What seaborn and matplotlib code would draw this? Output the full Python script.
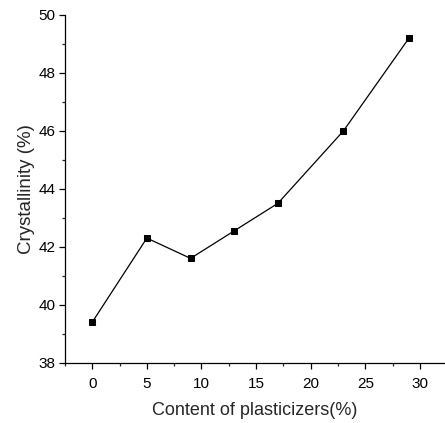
import pandas as pd
import matplotlib.pyplot as plt
import seaborn as sns
from matplotlib.ticker import MultipleLocator

# Dados
plasticizer = [0, 5, 9, 13, 17, 23, 29]
crystallinity = [39.4, 42.3, 41.6, 42.55, 43.5, 46.0, 49.2]

df = pd.DataFrame({"plasticizer": plasticizer, "crystallinity": crystallinity})

sns.set_style("ticks")
plt.rcParams["font.family"] = ["Liberation Sans", "DejaVu Sans"]

fig = plt.figure(figsize=(4.45, 4.23), dpi=100)
ax = fig.add_axes([0.146, 0.1426, 0.854, 0.822])

sns.lineplot(data=df, x="plasticizer", y="crystallinity", ax=ax,
             color="black", linewidth=0.9, marker="s", markersize=5,
             markeredgecolor="black", markerfacecolor="black")

ax.set_xlim(-2.5, 32.3)
ax.set_ylim(38, 50)
ax.xaxis.set_major_locator(MultipleLocator(5))
ax.xaxis.set_minor_locator(MultipleLocator(2.5))
ax.yaxis.set_major_locator(MultipleLocator(2))
ax.yaxis.set_minor_locator(MultipleLocator(1))

ax.tick_params(which="major", direction="out", length=4, width=0.9,
               labelsize=11, pad=3, colors="black")
ax.tick_params(axis="x", which="major", pad=6)
ax.tick_params(which="minor", direction="out", length=2.5, width=0.9)

sns.despine(ax=ax)
for side in ["left", "bottom"]:
    ax.spines[side].set_linewidth(0.9)
    ax.spines[side].set_color("black")

ax.set_xlabel("Content of plasticizers(%)", fontsize=13, labelpad=8)
ax.set_ylabel("Crystallinity (%)", fontsize=13.5, labelpad=2)

fig.savefig("out.png", dpi=100)
